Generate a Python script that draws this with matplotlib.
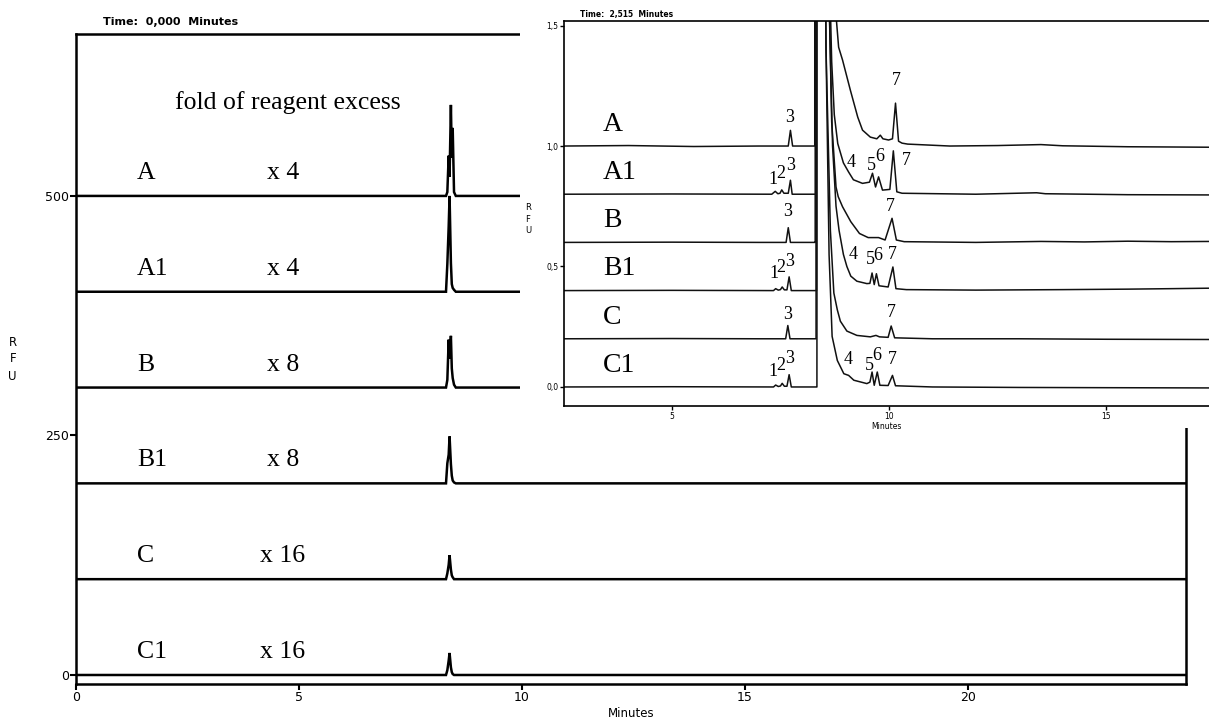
import matplotlib.pyplot as plt
from matplotlib.patches import Rectangle

plt.rcParams['font.family'] = 'DejaVu Sans'
SERIF = 'Liberation Serif'

# ---------------- full run, 0-25 min (RFU, traces stacked by 100) ----------------
main_names = ["A", "A1", "B", "B1", "C", "C1"]
main_fold = ["x 4", "x 4", "x 8", "x 8", "x 16", "x 16"]
main_offset = [500, 400, 300, 200, 100, 0]
main_t = [0.0, 8.30, 8.33, 8.36, 8.38, 8.41, 8.43, 8.45, 8.48, 8.52, 24.9]
main_A = [0, 0, 4, 42, 20, 95, 40, 71, 4, 0, 0]
main_A1 = [0, 0, 29, 68, 100, 30, 8, 4, 2, 0, 0]
main_B = [0, 0, 8, 50, 30, 54, 20, 10, 3, 0, 0]
main_B1 = [0, 0, 21, 30, 49, 20, 8, 3, 1, 0, 0]
main_C = [0, 0, 6, 15, 25, 10, 4, 2, 0, 0, 0]
main_C1 = [0, 0, 5, 15, 23, 8, 3, 1, 0, 0, 0]
main_traces = [main_A, main_A1, main_B, main_B1, main_C, main_C1]

# ---------------- zoomed view, 2.5-17.4 min (traces stacked by 0.2) ----------------
ins_offset = [1.0, 0.8, 0.6, 0.4, 0.2, 0.0]

ins_A_t = [2.52, 4.0, 5.5, 7.0, 7.68, 7.73, 7.78, 8.27, 8.29, 8.37, 8.45, 8.60, 8.79, 8.84,
           8.93, 9.11, 9.28, 9.39, 9.57, 9.72, 9.80, 9.86, 9.99, 10.08, 10.15, 10.22, 10.30,
           10.43, 11.4, 12.5, 13.5, 14.0, 15.5, 16.5, 17.4]
ins_A_v = [0.0, 0.002, -0.002, 0.0, 0.0, 0.065, 0.0, 0.0, 0.0, 95, 8, 1.6, 0.52, 0.41,
           0.357, 0.232, 0.12, 0.066, 0.037, 0.03, 0.045, 0.03, 0.025, 0.03, 0.178, 0.02, 0.012,
           0.008, 0.0, 0.002, 0.006, 0.001, -0.003, -0.004, -0.005]

ins_A1_t = [2.52, 5.0, 7.30, 7.38, 7.44, 7.49, 7.53, 7.58, 7.68, 7.73, 7.77, 8.29, 8.32, 8.37,
            8.44, 8.58, 8.68, 8.74, 8.82, 8.95, 9.07, 9.18, 9.39, 9.55, 9.62, 9.69, 9.76, 9.85,
            10.02, 10.10, 10.18, 10.30, 12.0, 13.4, 13.6, 15.5, 17.4]
ins_A1_v = [0.0, 0.001, 0.0, 0.012, 0.002, 0.004, 0.018, 0.004, 0.004, 0.058, 0.0, 0.0, 0.0, 100,
            6, 1.3, 0.55, 0.33, 0.21, 0.13, 0.092, 0.06, 0.045, 0.05, 0.087, 0.03, 0.072, 0.017,
            0.02, 0.18, 0.01, 0.004, 0.0, 0.006, 0.002, -0.002, -0.003]

ins_B_t = [2.52, 5.0, 7.0, 7.63, 7.68, 7.73, 8.28, 8.30, 8.38, 8.45, 8.58, 8.68, 8.78, 8.83,
           8.93, 9.12, 9.32, 9.52, 9.76, 9.91, 10.07, 10.17, 10.35, 12.0, 13.5, 14.5, 15.5,
           16.5, 17.4]
ins_B_v = [0.0, 0.001, 0.0, 0.0, 0.061, 0.0, 0.0, 0.0, 54, 5, 1.4, 0.5, 0.23, 0.19,
           0.148, 0.086, 0.037, 0.02, 0.02, 0.01, 0.10, 0.01, 0.003, 0.0, 0.004, 0.002, 0.005,
           0.003, 0.004]

ins_B1_t = [2.52, 5.0, 7.34, 7.39, 7.45, 7.50, 7.54, 7.59, 7.65, 7.70, 7.75, 8.31, 8.33, 8.39,
            8.46, 8.58, 8.70, 8.78, 8.85, 8.95, 9.03, 9.12, 9.26, 9.49, 9.56, 9.61, 9.66, 9.71,
            9.77, 9.98, 10.09, 10.16, 10.40, 12.0, 14.0, 15.5, 16.5, 17.4]
ins_B1_v = [0.0, 0.001, 0.0, 0.008, 0.002, 0.004, 0.015, 0.003, 0.003, 0.057, 0.0, 0.0, 0.0, 49,
            5, 1.5, 0.6, 0.35, 0.25, 0.15, 0.10, 0.06, 0.039, 0.029, 0.03, 0.073, 0.025, 0.07,
            0.02, 0.015, 0.098, 0.008, 0.004, 0.002, 0.004, 0.006, 0.008, 0.01]

ins_C_t = [2.52, 5.0, 7.0, 7.62, 7.67, 7.72, 8.30, 8.32, 8.38, 8.44, 8.55, 8.65, 8.73, 8.81,
           8.88, 9.03, 9.26, 9.57, 9.70, 9.78, 9.98, 10.05, 10.13, 11.0, 13.0, 15.0, 17.4]
ins_C_v = [0.0, 0.001, 0.0, 0.0, 0.055, 0.0, 0.0, 0.0, 25, 4, 1.2, 0.45, 0.19, 0.12,
           0.073, 0.032, 0.014, 0.008, 0.014, 0.008, 0.006, 0.053, 0.004, 0.0, 0.0, -0.002, -0.003]

ins_C1_t = [2.52, 5.0, 7.34, 7.39, 7.45, 7.50, 7.54, 7.59, 7.65, 7.70, 7.75, 8.32, 8.34, 8.39,
            8.45, 8.55, 8.62, 8.69, 8.81, 8.96, 9.07, 9.19, 9.49, 9.56, 9.61, 9.66, 9.73, 9.79,
            9.98, 10.08, 10.15, 11.0, 13.0, 15.0, 17.4]
ins_C1_v = [0.0, 0.001, 0.0, 0.008, 0.002, 0.004, 0.015, 0.003, 0.003, 0.051, 0.0, 0.0, 0.0, 23,
            4, 1.4, 0.55, 0.21, 0.11, 0.055, 0.048, 0.028, 0.014, 0.02, 0.062, 0.007, 0.062, 0.007,
            0.006, 0.048, 0.005, 0.0, -0.002, -0.003, -0.004]

ins_times = [ins_A_t, ins_A1_t, ins_B_t, ins_B1_t, ins_C_t, ins_C1_t]
ins_values = [ins_A_v, ins_A1_v, ins_B_v, ins_B1_v, ins_C_v, ins_C1_v]

# peak numbers written over the zoomed traces
peak_text = ["3", "7",
             "1", "2", "3", "4", "5", "6", "7",
             "3", "7",
             "1", "2", "3", "4", "5", "6", "7",
             "3", "7",
             "1", "2", "3", "4", "5", "6", "7"]
peak_x = [7.71, 10.17,
          7.33, 7.51, 7.73, 9.12, 9.60, 9.78, 10.39,
          7.66, 10.02,
          7.34, 7.51, 7.71, 9.17, 9.56, 9.73, 10.08,
          7.67, 10.05,
          7.33, 7.51, 7.71, 9.07, 9.55, 9.72, 10.07]
peak_y = [1.12, 1.27,
          0.86, 0.885, 0.92, 0.93, 0.92, 0.955, 0.94,
          0.727, 0.747,
          0.473, 0.494, 0.52, 0.548, 0.527, 0.544, 0.548,
          0.30, 0.31,
          0.064, 0.091, 0.12, 0.112, 0.091, 0.129, 0.112]

W, H = 1209, 719
fig = plt.figure(figsize=(W / 100, H / 100), dpi=100)

# main axes
ax = fig.add_axes([76 / W, 35 / H, 1110 / W, 650 / H])
for name, fold, off, ys in zip(main_names, main_fold, main_offset, main_traces):
    ax.plot(main_t, [v + off for v in ys], color='black', lw=1.8, solid_joinstyle='miter')
    ax.text(1.37, off + 24, name, family=SERIF, fontsize=18.5, ha='left', va='center')
    ax.text(4.64, off + 24, fold, family=SERIF, fontsize=18.5, ha='center', va='center')
ax.text(4.75, 597, "fold of reagent excess", family=SERIF, fontsize=18.5,
        ha='center', va='center')
ax.set_xlim(0, 24.9)
ax.set_ylim(-9.4, 669)
ax.set_xticks([0, 5, 10, 15, 20])
ax.set_yticks([0, 250, 500])
ax.tick_params(direction='out', length=4, width=1.5, labelsize=9, pad=1)
for s in ax.spines.values():
    s.set_linewidth(1.8)
ax.set_xlabel("Minutes", fontsize=8.5, labelpad=2)
ax.set_ylabel("R\nF\nU", rotation=0, fontsize=8.5, linespacing=1.4, va='center')
ax.yaxis.set_label_coords(-0.057, 0.5)
fig.text(103 / W, 1 - 22 / H, "Time:  0,000  Minutes", fontsize=8, va='center',
         fontweight='bold')

# white panel behind the zoomed view
fig.add_artist(Rectangle((520 / W, 1 - 428 / H), 1 - 520 / W, 428 / H,
                         transform=fig.transFigure, facecolor='white',
                         edgecolor='none', zorder=1))

# zoomed view
ins = fig.add_axes([564 / W, 1 - 406 / H, (W - 564) / W, (406 - 20.5) / H])
ins.set_zorder(2)
for off, ts, vs in zip(ins_offset, ins_times, ins_values):
    ins.plot(ts, [v + off for v in vs], color='#111111', lw=1.1)
for name, off in zip(main_names, ins_offset):
    ins.text(3.41, off + 0.09, name, family=SERIF, fontsize=20, ha='left', va='center')
for txt, px, py in zip(peak_text, peak_x, peak_y):
    ins.text(px, py, txt, family=SERIF, fontsize=13, ha='center', va='center')
ins.set_xlim(2.515, 17.37)
ins.set_ylim(-0.079, 1.521)
ins.set_xticks([5, 10, 15])
ins.set_yticks([0.0, 0.5, 1.0, 1.5])
ins.set_yticklabels(["0,0", "0,5", "1,0", "1,5"])
ins.tick_params(direction='out', length=3, width=1, labelsize=5.5, pad=1)
ins.spines['right'].set_visible(False)
for s in ['left', 'top', 'bottom']:
    ins.spines[s].set_linewidth(1.2)
ins.set_xlabel("Minutes", fontsize=5.5, labelpad=1)
ins.set_ylabel("R\nF\nU", rotation=0, fontsize=6, linespacing=1.3, va='center')
ins.yaxis.set_label_coords(-0.056, 0.485)
fig.text(580 / W, 1 - 14 / H, "Time:  2,515  Minutes", fontsize=5.5, va='center',
         fontweight='bold')

fig.savefig("out.png", dpi=100)
